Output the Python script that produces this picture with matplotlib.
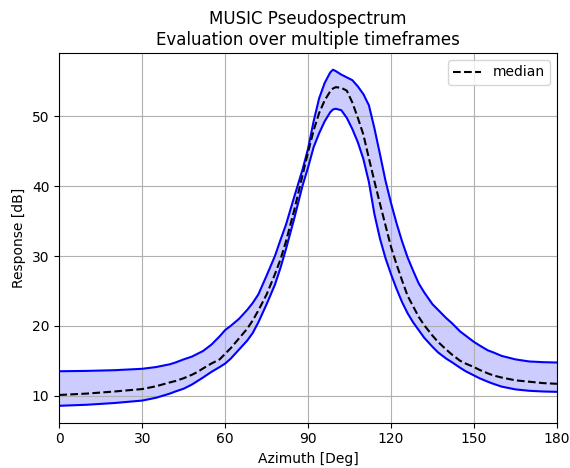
import matplotlib
matplotlib.use("Agg")
import matplotlib.pyplot as plt

azimuth = [0, 10, 20, 30, 35, 40, 42, 45, 48, 50, 52, 55, 58, 60, 62, 65, 68, 70, 72, 75,
           78, 80, 82, 85, 88, 90, 92, 94, 96, 98, 99, 100, 102, 104, 106, 108, 110, 112,
           114, 116, 118, 120, 122, 124, 126, 128, 130, 132, 135, 137, 140, 142, 145, 147,
           150, 152, 155, 157, 160, 165, 170, 175, 180]

upper = [13.5, 13.55, 13.65, 13.85, 14.1, 14.5, 14.75, 15.2, 15.6, 16.0, 16.4, 17.3, 18.5,
         19.4, 20.0, 21.0, 22.3, 23.3, 24.5, 27.2, 30.0, 32.3, 34.5, 38.5, 42.4, 45.4, 49.3,
         52.6, 54.8, 56.3, 56.7, 56.5, 56.0, 55.6, 55.2, 54.3, 53.2, 51.6, 48.3, 44.6, 40.8,
         37.6, 34.7, 32.1, 29.8, 27.9, 26.1, 24.8, 23.1, 22.3, 21.1, 20.4, 19.2, 18.6, 17.7,
         17.2, 16.5, 16.2, 15.7, 15.2, 14.9, 14.8, 14.75]

median = [10.1, 10.3, 10.6, 10.95, 11.35, 11.9, 12.1, 12.5, 13.0, 13.4, 13.9, 14.6, 15.2,
          16.0, 16.8, 18.2, 19.6, 20.8, 22.2, 24.5, 27.4, 29.5, 32.1, 36.6, 41.6, 44.9, 48.0,
          50.5, 52.3, 53.6, 54.0, 54.2, 54.1, 53.7, 52.0, 49.8, 47.4, 44.0, 40.7, 37.5, 34.4,
          31.3, 28.8, 26.5, 24.3, 22.8, 21.3, 20.1, 18.6, 17.7, 16.6, 15.9, 15.0, 14.6, 14.1,
          13.7, 13.2, 12.9, 12.6, 12.2, 12.0, 11.8, 11.7]

lower = [8.55, 8.7, 8.95, 9.3, 9.7, 10.3, 10.6, 11.0, 11.6, 12.1, 12.6, 13.4, 14.1, 14.6,
         15.3, 16.6, 17.9, 19.0, 20.5, 23.1, 25.9, 28.3, 31.0, 35.4, 40.1, 42.7, 45.6, 47.6,
         49.3, 50.6, 51.0, 51.1, 50.9, 49.8, 48.2, 46.3, 43.9, 40.6, 36.0, 32.5, 29.7, 27.4,
         25.3, 23.4, 21.8, 20.5, 19.4, 18.3, 17.0, 16.2, 15.3, 14.8, 14.0, 13.5, 12.9, 12.5,
         12.0, 11.7, 11.3, 10.9, 10.7, 10.6, 10.55]

xticks = [0, 30, 60, 90, 120, 150, 180]

fig = plt.figure(figsize=(5.7, 4.68), dpi=100)
ax = fig.add_axes([0.104, 0.097, 0.873, 0.79])
ax.fill_between(azimuth, lower, upper, color="blue", alpha=0.2, linewidth=0)
ax.plot(azimuth, upper, color="blue", linewidth=1.5)
ax.plot(azimuth, lower, color="blue", linewidth=1.5)
ax.plot(azimuth, median, "k--", linewidth=1.5, label="median")
ax.set_xlim(0, 180)
ax.set_xticks(xticks)
ax.grid(True)
ax.set_xlabel("Azimuth [Deg]")
ax.set_ylabel("Response [dB]")
ax.set_title("MUSIC Pseudospectrum\nEvaluation over multiple timeframes")
ax.legend(loc="upper right")
fig.savefig("out.png", dpi=100)
